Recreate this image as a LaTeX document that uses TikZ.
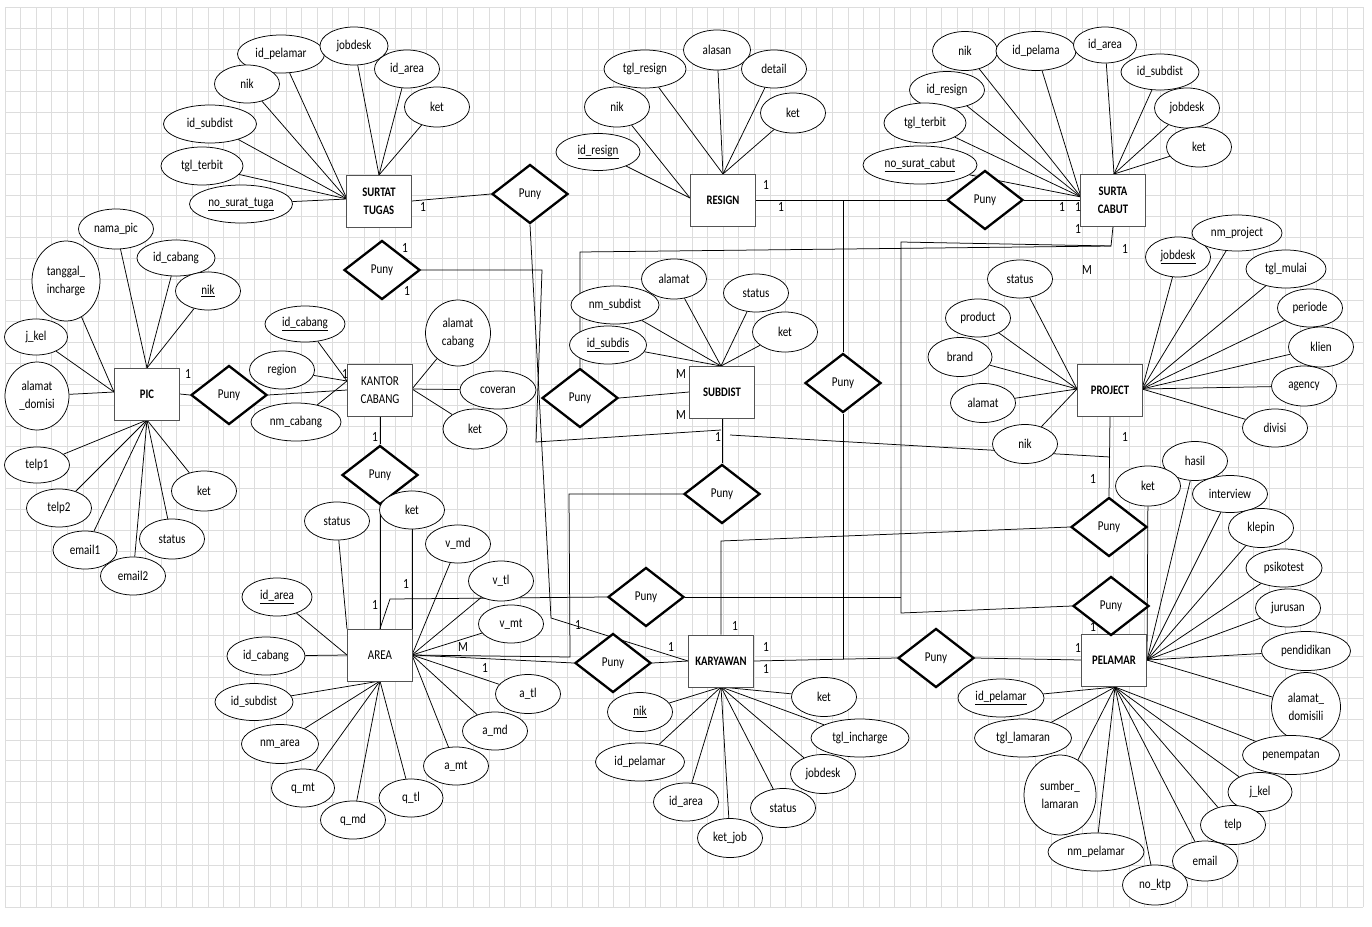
\documentclass[tikz,border=0pt]{standalone}
\usepackage{fontspec}
\setmainfont{Carlito}[FakeStretch=0.82]
\usetikzlibrary{shapes.geometric}
\pgfdeclarelayer{bg}
\pgfsetlayers{bg,main}
\newcommand{\att}[6]{\node[attr,minimum width=#4pt,minimum height=#5pt] (#1) at (#2,#3) {#6};}
\begin{document}
\begin{tikzpicture}[x=1pt,y=-1pt,
  attr/.style={draw=black, line width=0.75pt, ellipse, fill=white, inner sep=0pt, align=center, font=\fontsize{13.5}{18}\selectfont},
  ent/.style={draw=gray!65!black, line width=0.8pt, rectangle, fill=white, minimum width=65pt, minimum height=52pt, inner sep=0pt, align=center, font=\bfseries\fontsize{13}{18}\selectfont},
  entr/.style={ent, font=\fontsize{13.5}{18}\selectfont},
  rel/.style={draw=black, line width=2.3pt, diamond, fill=white, minimum width=76pt, minimum height=59pt, inner sep=0pt, font=\fontsize{13.5}{14}\selectfont},
  con/.style={draw=black, line width=0.75pt},
  lbl/.style={font=\fontsize{14}{15}\selectfont, inner sep=0pt},
  gridl/.style={draw=gray!27, line width=0.7pt}]
\useasboundingbox (0,0) rectangle (1372,926);

% ---------- entities ----------
\node[ent]  (st)  at (379,201)  {SURTAT\\TUGAS};
\node[ent]  (rs)  at (723,200)  {RESIGN};
\node[ent]  (sc)  at (1113,200) {SURTA\\CABUT};
\node[ent]  (pic) at (147,394)  {PIC};
\node[entr] (kc)  at (380,390)  {KANTOR\\CABANG};
\node[ent]  (sd)  at (722,392)  {SUBDIST};
\node[ent]  (pj)  at (1110,390) {PROJECT};
\node[entr] (ar)  at (380,655)  {AREA};
\node[ent]  (ky)  at (721,661)  {KARYAWAN};
\node[ent]  (pl)  at (1114,660) {PELAMAR};

% ---------- relationships ----------
\node[rel] (d1)  at (530,194)  {Puny};
\node[rel] (d2)  at (382,270)  {Puny};
\node[rel] (d3)  at (985,200)  {Puny};
\node[rel] (d4)  at (229,395)  {Puny};
\node[rel] (d5)  at (380,475)  {Puny};
\node[rel] (d6)  at (580,398)  {Puny};
\node[rel] (d7)  at (843,383)  {Puny};
\node[rel] (d8)  at (722,494)  {Puny};
\node[rel] (d9)  at (646,597)  {Puny};
\node[rel] (d10) at (613,663)  {Puny};
\node[rel] (d11) at (936,658)  {Puny};
\node[rel] (d12) at (1109,527) {Puny};
\node[rel] (d13) at (1111,606) {Puny};

% ---------- attributes ----------
% SURTAT TUGAS
\att{st1}{281}{54}{87}{38}{id\_pelamar}
\att{st2}{354}{46}{68}{38}{jobdesk}
\att{st3}{247}{84}{65}{38}{nik}
\att{st4}{407}{69}{65}{38}{id\_area}
\att{st5}{437}{107}{65}{40}{ket}
\att{st6}{210}{124}{93}{38}{id\_subdist}
\att{st7}{202}{166}{82}{38}{tgl\_terbit}
\att{st8}{241}{204}{103}{38}{\underline{no\_surat\_tuga}}
% RESIGN
\att{rs1}{717}{50}{67}{40}{alasan}
\att{rs2}{645}{69}{82}{38}{tgl\_resign}
\att{rs3}{774}{69}{65}{38}{detail}
\att{rs4}{617}{107}{65}{40}{nik}
\att{rs5}{793}{113}{65}{40}{ket}
\att{rs6}{598}{152}{84}{37}{\underline{id\_resign}}
% SURTA CABUT
\att{sc1}{965}{51}{65}{39}{nik}
\att{sc2}{1036}{51}{80}{39}{id\_pelama}
\att{sc3}{1105}{45}{63}{36}{id\_area}
\att{sc4}{1160}{72}{78}{36}{id\_subdist}
\att{sc5}{1187}{108}{65}{40}{jobdesk}
\att{sc6}{1199}{147}{65}{40}{ket}
\att{sc7}{947}{90}{75}{37}{id\_resign}
\att{sc8}{925}{123}{82}{40}{tgl\_terbit}
\att{sc9}{920}{165}{114}{38}{\underline{no\_surat\_cabut}}
% PIC
\att{p1}{116}{229}{75}{40}{nama\_pic}
\att{p2}{66}{281}{68}{80}{tanggal\_\\incharge}
\att{p3}{176}{258}{78}{36}{id\_cabang}
\att{p4}{208}{291}{65}{38}{\underline{nik}}
\att{p5}{36}{337}{63}{36}{j\_kel}
\att{p6}{37}{396}{64}{68}{alamat\\\_domisi}
\att{p7}{37}{465}{65}{36}{telp1}
\att{p8}{59}{508}{65}{38}{telp2}
\att{p9}{85}{550}{64}{38}{email1}
\att{p10}{133}{576}{65}{38}{email2}
\att{p11}{172}{539}{65}{40}{status}
\att{p12}{204}{491}{65}{40}{ket}
% KANTOR CABANG
\att{k1}{305}{324}{80}{36}{\underline{id\_cabang}}
\att{k2}{282}{370}{65}{38}{region}
\att{k3}{296}{422}{90}{38}{nm\_cabang}
\att{k4}{458}{333}{65}{66}{alamat\\cabang}
\att{k5}{498}{390}{76}{38}{coveran}
\att{k6}{475}{429}{64}{40}{ket}
% SUBDIST
\att{s1}{674}{279}{65}{40}{alamat}
\att{s2}{615}{305}{88}{38}{nm\_subdist}
\att{s3}{756}{293}{65}{38}{status}
\att{s4}{785}{332}{65}{40}{ket}
\att{s5}{608}{345}{77}{38}{\underline{id\_subdis}}
% PROJECT
\att{j1}{1020}{279}{65}{38}{status}
\att{j2}{978}{318}{65}{38}{product}
\att{j3}{960}{357}{64}{39}{brand}
\att{j4}{983}{403}{65}{39}{alamat}
\att{j5}{1025}{444}{65}{39}{nik}
\att{j6}{1178}{257}{65}{40}{\underline{jobdesk}}
\att{j7}{1237}{233}{90}{36}{nm\_project}
\att{j8}{1286}{269}{80}{38}{tgl\_mulai}
\att{j9}{1310}{308}{65}{38}{periode}
\att{j10}{1321}{347}{65}{40}{klien}
\att{j11}{1304}{386}{65}{40}{agency}
\att{j12}{1275}{428}{65}{38}{divisi}
% AREA
\att{a1}{337}{521}{65}{38}{status}
\att{a2}{412}{510}{65}{38}{ket}
\att{a3}{458}{544}{65}{38}{v\_md}
\att{a4}{501}{581}{65}{40}{v\_tl}
\att{a5}{511}{624}{65}{38}{v\_mt}
\att{a6}{277}{597}{70}{38}{\underline{id\_area}}
\att{a7}{266}{656}{78}{38}{id\_cabang}
\att{a8}{254}{702}{78}{37}{id\_subdist}
\att{a9}{280}{744}{77}{39}{nm\_area}
\att{a10}{303}{788}{63}{38}{q\_mt}
\att{a11}{353}{820}{65}{38}{q\_md}
\att{a12}{411}{798}{64}{38}{q\_tl}
\att{a13}{456}{766}{65}{38}{a\_mt}
\att{a14}{495}{731}{65}{38}{a\_md}
\att{a15}{528}{694}{65}{39}{a\_tl}
% KARYAWAN
\att{y1}{824}{697}{65}{39}{ket}
\att{y2}{860}{738}{98}{38}{tgl\_incharge}
\att{y3}{823}{774}{65}{39}{jobdesk}
\att{y4}{783}{808}{65}{39}{status}
\att{y5}{730}{838}{65}{39}{ket\_job}
\att{y6}{686}{802}{65}{38}{id\_area}
\att{y7}{640}{762}{89}{38}{id\_pelamar}
\att{y8}{640}{712}{65}{39}{\underline{nik}}
% PELAMAR
\att{m2}{1195}{461}{65}{39}{hasil}
\att{m1}{1148}{486}{65}{40}{ket}
\att{m3}{1230}{494}{75}{37}{interview}
\att{m4}{1261}{528}{65}{39}{klepin}
\att{m5}{1284}{568}{76}{38}{psikotest}
\att{m6}{1288}{608}{65}{38}{jurusan}
\att{m7}{1306}{651}{89}{39}{pendidikan}
\att{m8}{1306}{707}{69}{69}{alamat\_\\domisili}
\att{m9}{1291}{755}{97}{39}{penempatan}
\att{m10}{1260}{792}{64}{39}{j\_kel}
\att{m11}{1233}{825}{65}{39}{telp}
\att{m12}{1205}{861}{65}{40}{email}
\att{m13}{1155}{885}{65}{40}{no\_ktp}
\att{m14}{1096}{852}{96}{38}{nm\_pelamar}
\att{m15}{1060}{795}{72}{80}{sumber\_\\lamaran}
\att{m16}{1023}{738}{97}{38}{tgl\_lamaran}
\att{m17}{1001}{698}{86}{38}{\underline{id\_pelamar}}

% ---------- anchor points ----------
\coordinate (stL) at (347,199);  \coordinate (stT) at (379,175);
\coordinate (rsL) at (690,198);  \coordinate (rsT) at (723,174);
\coordinate (scL) at (1081,197); \coordinate (scT) at (1114,174);
\coordinate (picL) at (114,392); \coordinate (picT) at (147,368); \coordinate (picB) at (147,420);
\coordinate (kcL) at (347,381);  \coordinate (kcR) at (412,389);
\coordinate (sdT) at (721,366);
\coordinate (pjL) at (1077,389); \coordinate (pjR) at (1142,389);
\coordinate (arL) at (347,655);  \coordinate (arTL) at (347,629); \coordinate (arTR) at (412,629);
\coordinate (arR) at (412,655);  \coordinate (arB) at (380,681);
\coordinate (kyB) at (721,687);
\coordinate (plR) at (1147,660); \coordinate (plB) at (1115,687);
% junctions
\coordinate (c1) at (551,618);
\coordinate (c2a) at (542,270); \coordinate (c2b) at (536,442); \coordinate (c2c) at (721,430);
\coordinate (c4a) at (730,435); \coordinate (c4b) at (1110,457);
\coordinate (c7) at (721,541);
\coordinate (c8a) at (843,201); \coordinate (c8b) at (843,659);
\coordinate (c10a) at (1111,246); \coordinate (c10b) at (580,252);
\coordinate (c10c) at (901,242); \coordinate (c10d) at (901,613);
\coordinate (c12a) at (570,657); \coordinate (c12b) at (569,494);
\coordinate (c16) at (901,597);
\coordinate (c17) at (390,599);

% ---------- labels ----------
\foreach \x/\y/\t [count=\i] in {423/207/1, 405/248/1, 407/291/1, 766/185/1, 781/207/1,
  1062/207/1, 1078/207/1, 1078/229/1, 1125/249/1, 1087/270/M, 188/374/1, 345/374/1,
  375/437/1, 681/374/M, 681/415/M, 718/437/1, 1125/437/1, 1093/479/1, 406/584/1,
  375/605/1, 578/625/1, 463/647/M, 485/668/1, 671/647/1, 735/626/1, 766/647/1,
  766/669/1, 1093/627/1, 1078/648/1}
  \node[lbl] (lb\i) at (\x,\y) {\t};

% ---------- background: grid and connectors ----------
\begin{pgfonlayer}{bg}
\fill[white] (0,0) rectangle (1372,926);
\foreach \k in {0,...,87} \draw[gridl] ({5+15.61*\k},7.3) -- ({5+15.61*\k},907.3);
\foreach \k in {0,...,43} \draw[gridl] (5,{7.3+20.93*\k}) -- (1363,{7.3+20.93*\k});

% attribute connectors
\foreach \a/\b in {st1/stL, st3/stL, st6/stL, st7/stL, st8/stL, st2/stT, st4/stT, st5/stT,
  rs1/rsT, rs2/rsT, rs3/rsT, rs5/rsT, rs4/rsL, rs6/rsL,
  sc1/scL, sc2/scL, sc7/scL, sc8/scL, sc9/scL, sc3/scT, sc4/scT, sc5/scT, sc6/scT,
  p1/picT, p3/picT, p4/picT, p2/picL, p5/picL, p6/picL,
  p7/picB, p8/picB, p9/picB, p10/picB, p11/picB, p12/picB,
  k1/kcL, k2/kcL, k3/kcL, k4/kcR, k5/kcR, k6/kcR,
  s1/sdT, s2/sdT, s3/sdT, s4/sdT, s5/sdT,
  j1/pjL, j2/pjL, j3/pjL, j4/pjL, j5/pjL,
  j6/pjR, j7/pjR, j8/pjR, j9/pjR, j10/pjR, j11/pjR, j12/pjR,
  a1/arTL, a2/arTR, a3/arR, a4/arR, a5/arR, a13/arR, a14/arR, a15/arR,
  a6/arL, a7/arL, a8/arB, a9/arB, a10/arB, a11/arB, a12/arB,
  y1/kyB, y2/kyB, y3/kyB, y4/kyB, y5/kyB, y6/kyB, y7/kyB, y8/kyB,
  m1/plR, m2/plR, m3/plR, m4/plR, m5/plR, m6/plR, m7/plR, m8/plR,
  m9/plB, m10/plB, m11/plB, m12/plB, m13/plB, m14/plB, m15/plB, m16/plB, m17/plB}
  \draw[con] (\a) -- (\b);

% relationship connectors
\draw[con] (st.east) -- (d1.west);
\draw[con] (d1.south) -- (c1) -- (ky.west);
\draw[con] (d2.east) -- (c2a) -- (c2b) -- (c2c);
\draw[con] (sd.south) -- (d8.north);
\draw[con] (c4a) -- (c4b);
\draw[con] (pj.south) -- (d12.north);
\draw[con] (d12.west) -- (c7) -- (ky.north);
\draw[con] (rs.east) -- (d3.west);
\draw[con] (c8a) -- (d7.north);
\draw[con] (d7.south) -- (c8b);
\draw[con] (d3.east) -- (sc.west);
\draw[con] (sc.south) -- (c10a) -- (c10b) -- (d6.north);
\draw[con] (c10a) -- (c10c) -- (c10d) -- (d13.west);
\draw[con] (d6.east) -- (sd.west);
\draw[con] (ar.east) -- (c12a) -- (c12b) -- (d8.west);
\draw[con] (ar.east) -- (d10.west);
\draw[con] (d10.east) -- (ky.west);
\draw[con] (ky.east) -- (d11.west);
\draw[con] (d11.east) -- (pl.west);
\draw[con] (d13.south) -- (pl.north);
\draw[con] (d9.east) -- (c16);
\draw[con] (d9.west) -- (c17) -- (ar.north);
\draw[con] (pic.east) -- (d4.west);
\draw[con] (d4.east) -- (kc.west);
\draw[con] (kc.south) -- (d5.north);
\draw[con] (d5.south) -- (ar.north);
\end{pgfonlayer}
\end{tikzpicture}
\end{document}
